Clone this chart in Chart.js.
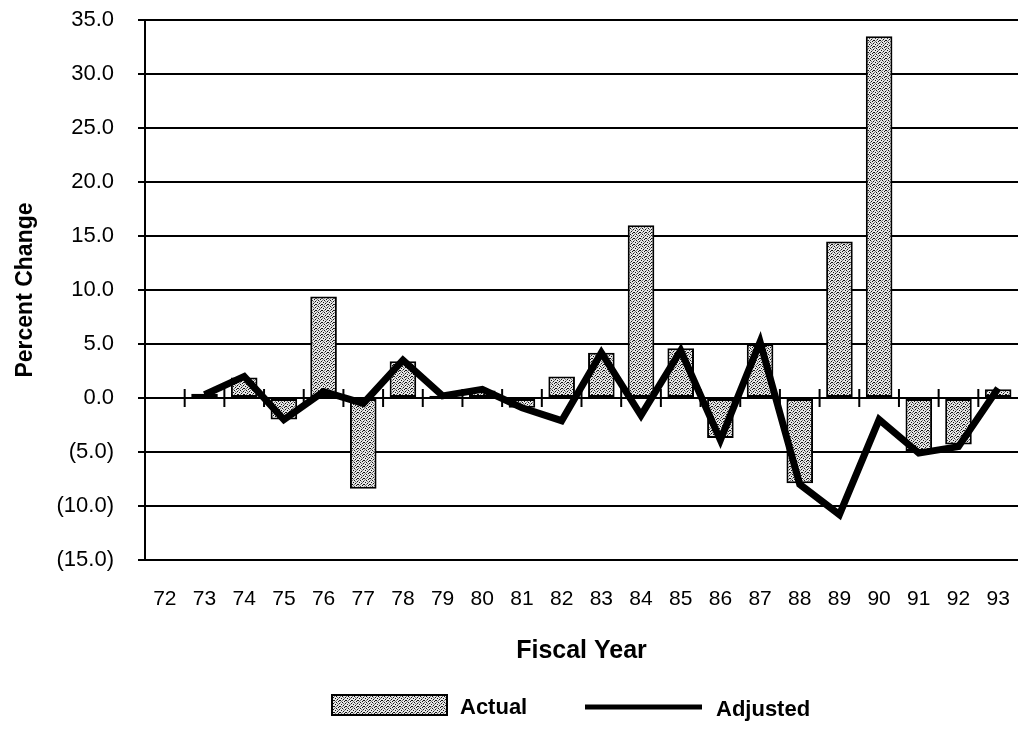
<!DOCTYPE html>
<html>
<head>
<meta charset="utf-8">
<script src="https://cdn.jsdelivr.net/npm/chart.js@4/dist/chart.umd.min.js"></script>
<style>
  html, body { margin: 0; padding: 0; background: #ffffff; }
  #wrap { width: 1022px; height: 732px; position: relative; }
</style>
</head>
<body>
<div id="wrap"><canvas id="c" width="1022" height="732"></canvas></div>
<script>
// ---- data ----
const categories = ['72','73','74','75','76','77','78','79','80','81','82','83','84','85','86','87','88','89','90','91','92','93'];
const actualValues = [null, 0.4, 1.9, -2.0, 9.4, -8.4, 3.4, 0.2, 0.7, -0.9, 2.0, 4.2, 16.0, 4.6, -3.7, 5.0, -7.9, 14.5, 33.5, -4.9, -4.3, 0.8];
const adjustedValues = [null, 0.3, 2.0, -2.0, 0.6, -0.5, 3.5, 0.2, 0.8, -0.9, -2.1, 4.2, -1.6, 4.4, -3.9, 5.2, -8.0, -10.8, -2.0, -5.1, -4.5, 0.9];
const yTickValues = [35, 30, 25, 20, 15, 10, 5, 0, -5, -10, -15];
const seriesNames = ['Actual', 'Adjusted'];
const xTitle = 'Fiscal Year';
const yTitle = 'Percent Change';

// ---- stipple pattern ----
function makeStipple() {
  const t = document.createElement('canvas');
  t.width = 6; t.height = 6;
  const g = t.getContext('2d');
  g.fillStyle = '#e6e6e6';
  g.fillRect(0, 0, 6, 6);
  g.fillStyle = '#111';
  const dots = [[0,0],[3,1],[1,3],[4,4],[2,5],[5,2],[3,4]];
  dots.forEach(([x, y]) => g.fillRect(x, y, 1, 1));
  g.fillStyle = '#777';
  [[2,2],[5,5],[0,4],[4,0],[1,1]].forEach(([x, y]) => g.fillRect(x, y, 1, 1));
  return g.createPattern(t, 'repeat');
}
const stipple = makeStipple();

function fmt(v) {
  const s = Math.abs(v).toFixed(1);
  return v < 0 ? '(' + s + ')' : s;
}

// ticks crossing the zero line at category boundaries
const zeroTicks = {
  id: 'zeroTicks',
  beforeDatasetsDraw(chart) {
    const xs = chart.scales.x, ys = chart.scales.y, ctx = chart.ctx;
    const y0 = ys.getPixelForValue(0);
    ctx.save();
    ctx.strokeStyle = '#000';
    ctx.lineWidth = 2;
    for (let i = 1; i < categories.length; i++) {
      const x = (xs.getPixelForValue(i - 1) + xs.getPixelForValue(i)) / 2;
      ctx.beginPath();
      ctx.moveTo(x, y0 - 9);
      ctx.lineTo(x, y0 + 9);
      ctx.stroke();
    }
    ctx.restore();
  }
};

// custom legend
const customLegend = {
  id: 'customLegend',
  afterDraw(chart) {
    const ctx = chart.ctx;
    const yc = 705;
    ctx.save();
    ctx.fillStyle = stipple;
    ctx.fillRect(332, yc - 10, 115, 20);
    ctx.strokeStyle = '#000';
    ctx.lineWidth = 2;
    ctx.strokeRect(332, yc - 10, 115, 20);
    ctx.fillStyle = '#000';
    ctx.font = 'bold 22px "Liberation Sans", Arial, sans-serif';
    ctx.textBaseline = 'middle';
    ctx.textAlign = 'left';
    ctx.fillText(chart.data.datasets[0].label, 460, yc + 3);
    ctx.beginPath();
    ctx.lineWidth = 5;
    ctx.moveTo(585, yc + 2);
    ctx.lineTo(702, yc + 2);
    ctx.stroke();
    ctx.fillText(chart.data.datasets[1].label, 716, yc + 5);
    ctx.restore();
  }
};

new Chart(document.getElementById('c'), {
  data: {
    labels: categories,
    datasets: [
      {
        type: 'bar',
        label: seriesNames[0],
        data: actualValues,
        backgroundColor: stipple,
        borderColor: '#000',
        borderWidth: 2,
        borderSkipped: false,
        barPercentage: 0.67,
        categoryPercentage: 1.0,
        order: 2
      },
      {
        type: 'line',
        label: seriesNames[1],
        data: adjustedValues,
        borderColor: '#000',
        borderWidth: 7,
        pointRadius: 0,
        tension: 0,
        fill: false,
        borderJoinStyle: 'miter',
        spanGaps: false,
        order: 1
      }
    ]
  },
  options: {
    responsive: false,
    animation: false,
    devicePixelRatio: 1,
    layout: { padding: { left: 0, right: 4, top: 20, bottom: 66 } },
    plugins: {
      legend: { display: false },
      tooltip: { enabled: false }
    },
    scales: {
      x: {
        type: 'category',
        afterFit(scale) { scale.height = 106; scale.paddingLeft = 0; scale.paddingRight = 0; },
        grid: { display: false, drawTicks: false },
        border: { display: false },
        ticks: {
          color: '#000',
          padding: 27,
          maxRotation: 0,
          autoSkip: false,
          font: { family: '"Liberation Sans", Arial, sans-serif', size: 21 }
        },
        title: {
          display: true,
          text: xTitle,
          color: '#000',
          padding: { top: 22, bottom: 0 },
          font: { family: '"Liberation Sans", Arial, sans-serif', size: 25, weight: 'bold' }
        }
      },
      y: {
        min: -15,
        max: 35,
        afterBuildTicks(scale) {
          scale.ticks = yTickValues.slice().reverse().map(v => ({ value: v }));
        },
        afterFit(scale) { scale.width = 145; scale.paddingTop = 0; scale.paddingBottom = 0; },
        grid: { color: '#000', lineWidth: 2, tickLength: 7, drawTicks: true },
        border: { display: true, color: '#000', width: 2 },
        ticks: {
          color: '#000',
          padding: 24,
          callback: (v) => fmt(v),
          font: { family: '"Liberation Sans", Arial, sans-serif', size: 22 }
        },
        title: {
          display: true,
          text: yTitle,
          color: '#000',
          padding: { top: 12, bottom: 0 },
          font: { family: '"Liberation Sans", Arial, sans-serif', size: 23, weight: 'bold' }
        }
      }
    }
  },
  plugins: [zeroTicks, customLegend]
});
</script>
</body>
</html>
